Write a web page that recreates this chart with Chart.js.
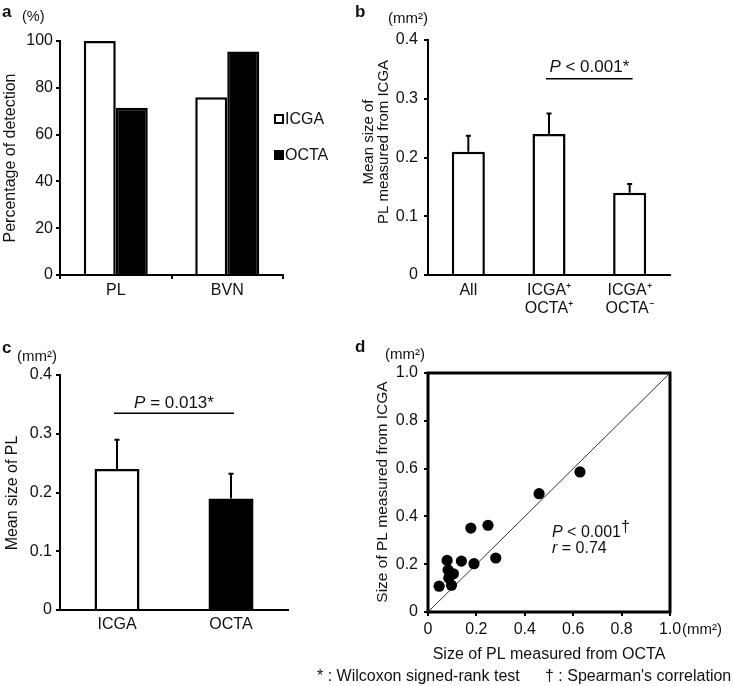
<!DOCTYPE html>
<html>
<head>
<meta charset="utf-8">
<script src="https://cdn.jsdelivr.net/npm/chart.js@4.4.1/dist/chart.umd.min.js"></script>
<style>
  html, body { margin: 0; padding: 0; background: #fff; }
  #wrap { position: relative; width: 733px; height: 686px; }
  #wrap canvas { position: absolute; left: 0; top: 0; }
</style>
</head>
<body>
<div id="wrap">
  <canvas id="ca" width="733" height="686"></canvas>
  <canvas id="cb" width="733" height="686"></canvas>
  <canvas id="cc" width="733" height="686"></canvas>
  <canvas id="cd" width="733" height="686"></canvas>
</div>
<script>
// ---------------- data ----------------
// Panel a: percentage of detection
const detectCategories = ['PL', 'BVN'];
const detectICGA = [100, 76];
const detectOCTA = [71.5, 95.5];
const detectTickLabels = ['0', '20', '40', '60', '80', '100'];

// Panel b: mean size of PL measured from ICGA
const icgaSizeCategories = ['All', ['ICGA\u207A', 'OCTA\u207A'], ['ICGA\u207A', 'OCTA\u207B']];
const icgaSizeMeans = [0.21, 0.24, 0.14];
const icgaSizeErrors = [0.027, 0.035, 0.015];
const icgaSizeCompare = [1, 2];          // categories compared
const icgaSizeCompareLevel = 0.334;     // value at which the bracket sits
const icgaSizeCompareLabel = ['P', ' < 0.001*'];

// Panel c: mean size of PL
const sizeCategories = ['ICGA', 'OCTA'];
const sizeMeans = [0.24, 0.19];
const sizeErrors = [0.05, 0.042];
const sizeCompare = [0, 1];
const sizeCompareLevel = 0.335;
const sizeCompareLabel = ['P', ' = 0.013*'];
const sizeTickLabels = ['0', '0.1', '0.2', '0.3', '0.4'];

// Panel d: scatter OCTA (x) vs ICGA (y)
const scatterOCTA = [0.046, 0.097, 0.079, 0.083, 0.086, 0.105, 0.138, 0.19, 0.177, 0.248, 0.28, 0.459, 0.628];
const scatterICGA = [0.108, 0.112, 0.216, 0.176, 0.142, 0.160, 0.213, 0.202, 0.351, 0.363, 0.226, 0.495, 0.586];
const identityLine = [0, 1];
const scatterTickLabels = ['0', '0.2', '0.4', '0.6', '0.8', '1.0'];

// ---------------- helpers ----------------
const W = 733, H = 686;
const FONT = "'Liberation Sans', Arial, Helvetica, sans-serif";
const INK = '#111';
const YW = 50;   // fixed width of y-axis boxes
const XH = 44;   // fixed height of x-axis boxes

function fixedArea(l, t, r, b) {
  return { padding: { left: l - YW, top: t, right: W - r, bottom: H - b - XH } };
}
const fixW = s => { s.width = YW; };
const fixH = s => { s.height = XH; };

function drawRuns(ctx, runs, x, y, o = {}) {
  const size = o.size || 16;
  const align = o.align || 'left';
  runs = runs.map(r => typeof r === 'string' ? { t: r } : r);
  const fontOf = r => `${r.italic ? 'italic ' : ''}${(r.bold || o.bold) ? 'bold ' : ''}${r.size || size}px ${FONT}`;
  ctx.save();
  ctx.fillStyle = o.color || INK;
  ctx.textBaseline = 'alphabetic';
  ctx.textAlign = 'left';
  let total = 0;
  runs.forEach(r => { ctx.font = fontOf(r); total += ctx.measureText(r.t).width; });
  let sx = align === 'center' ? -total / 2 : (align === 'right' ? -total : 0);
  ctx.translate(x, y);
  if (o.rot) ctx.rotate(o.rot);
  runs.forEach(r => {
    ctx.font = fontOf(r);
    ctx.fillText(r.t, sx, r.dy || 0);
    sx += ctx.measureText(r.t).width;
  });
  ctx.restore();
}

function tickFont() { return { family: FONT, size: 16 }; }

function yScale(max, step, labels, pad) {
  return {
    min: 0, max: max,
    afterFit: fixW,
    ticks: { stepSize: step, callback: (v, i) => labels[i], color: INK, font: tickFont(), padding: pad },
    grid: { display: true, drawOnChartArea: false, drawTicks: true, tickLength: 4, color: '#000', lineWidth: 2 },
    border: { display: true, color: '#000', width: 2 }
  };
}
function xCatScale(pad, withTicks, lineHeight) {
  return {
    afterFit: fixH,
    ticks: { color: INK, font: { family: FONT, size: 16, lineHeight: lineHeight || 1.2 }, padding: pad, maxRotation: 0, autoSkip: false },
    grid: { display: withTicks, drawOnChartArea: false, drawTicks: withTicks, tickLength: 4, color: '#000', lineWidth: 2 },
    border: { display: true, color: '#000', width: 2 }
  };
}

const errorBarPlugin = {
  id: 'errorBars',
  afterDatasetsDraw(chart) {
    const errs = chart.options.plugins.errorBars && chart.options.plugins.errorBars.errors;
    if (!errs) return;
    const ctx = chart.ctx;
    const meta = chart.getDatasetMeta(0);
    const ys = chart.scales.y;
    ctx.save();
    ctx.strokeStyle = '#000';
    ctx.lineWidth = 2;
    meta.data.forEach((el, i) => {
      const v = chart.data.datasets[0].data[i];
      const yTop = ys.getPixelForValue(v + errs[i]);
      ctx.beginPath();
      ctx.moveTo(el.x, el.y);
      ctx.lineTo(el.x, yTop);
      ctx.moveTo(el.x - 2.5, yTop);
      ctx.lineTo(el.x + 2.5, yTop);
      ctx.stroke();
    });
    ctx.restore();
  }
};

function drawBracket(chart, pair, level, label, textGap) {
  const ctx = chart.ctx;
  const xs = chart.scales.x, ys = chart.scales.y;
  const x1 = xs.getPixelForValue(pair[0]) - 3;
  const x2 = xs.getPixelForValue(pair[1]) + 3;
  const y = ys.getPixelForValue(level);
  ctx.save();
  ctx.strokeStyle = '#000';
  ctx.lineWidth = 1.6;
  ctx.beginPath();
  ctx.moveTo(x1, y);
  ctx.lineTo(x2, y);
  ctx.stroke();
  ctx.restore();
  drawRuns(ctx, [{ t: label[0], italic: true }, label[1]], (x1 + x2) / 2, y - textGap, { align: 'center', size: 17 });
}

const common = {
  responsive: false,
  animation: false,
  events: [],
  devicePixelRatio: 1
};

// ---------------- panel a ----------------
new Chart(document.getElementById('ca'), {
  type: 'bar',
  data: {
    labels: detectCategories,
    datasets: [
      { label: 'ICGA', data: detectICGA, backgroundColor: '#fff', borderColor: '#000', borderWidth: 2.5 },
      { label: 'OCTA', data: detectOCTA, backgroundColor: '#000', borderColor: '#000', borderWidth: 2.5 }
    ]
  },
  options: Object.assign({}, common, {
    layout: fixedArea(60, 41, 283, 275),
    datasets: { bar: { barPercentage: 1, categoryPercentage: 0.574 } },
    plugins: { legend: { display: false }, tooltip: { enabled: false } },
    scales: {
      x: xCatScale(2, true),
      y: yScale(100, 20, detectTickLabels, 3)
    }
  }),
  plugins: [{
    id: 'annA',
    afterDraw(chart) {
      const ctx = chart.ctx;
      drawRuns(ctx, ['a'], 2, 17, { bold: true, size: 17 });
      drawRuns(ctx, ['(%)'], 22, 21, { size: 14.5 });
      drawRuns(ctx, ['Percentage of detection'], 15, 158, { align: 'center', rot: -Math.PI / 2, size: 16 });
      // legend
      const ds = chart.data.datasets;
      ctx.save();
      ctx.lineWidth = 2;
      ctx.strokeStyle = '#000';
      ctx.fillStyle = ds[0].backgroundColor;
      ctx.fillRect(275, 115, 8, 8);
      ctx.strokeRect(275, 115, 8, 8);
      ctx.fillStyle = ds[1].backgroundColor;
      ctx.fillRect(274, 150, 10, 10);
      ctx.restore();
      drawRuns(ctx, [ds[0].label], 285, 124, { size: 16 });
      drawRuns(ctx, [ds[1].label], 285, 160, { size: 16 });
    }
  }]
});

// ---------------- panel b ----------------
new Chart(document.getElementById('cb'), {
  type: 'bar',
  data: {
    labels: icgaSizeCategories,
    datasets: [
      { data: icgaSizeMeans, backgroundColor: '#fff', borderColor: '#000', borderWidth: 2.5 }
    ]
  },
  options: Object.assign({}, common, {
    layout: fixedArea(428, 40, 670, 275),
    datasets: { bar: { barPercentage: 1, categoryPercentage: 0.41 } },
    plugins: { legend: { display: false }, tooltip: { enabled: false }, errorBars: { errors: icgaSizeErrors } },
    scales: {
      x: xCatScale(7, false, 1.1),
      y: yScale(0.4, 0.1, sizeTickLabels, 6)
    }
  }),
  plugins: [errorBarPlugin, {
    id: 'annB',
    afterDraw(chart) {
      const ctx = chart.ctx;
      drawRuns(ctx, ['b'], 355, 17, { bold: true, size: 17 });
      drawRuns(ctx, ['(mm\u00B2)'], 388, 23, { size: 15 });
      drawRuns(ctx, ['Mean size of'], 373, 142, { align: 'center', rot: -Math.PI / 2, size: 15 });
      drawRuns(ctx, ['PL measured from ICGA'], 388, 142, { align: 'center', rot: -Math.PI / 2, size: 15 });
      drawBracket(chart, icgaSizeCompare, icgaSizeCompareLevel, icgaSizeCompareLabel, 7);
    }
  }]
});

// ---------------- panel c ----------------
new Chart(document.getElementById('cc'), {
  type: 'bar',
  data: {
    labels: sizeCategories,
    datasets: [
      { data: sizeMeans, backgroundColor: ['#fff', '#000'], borderColor: '#000', borderWidth: 2.5 }
    ]
  },
  options: Object.assign({}, common, {
    layout: fixedArea(60, 375, 288, 610),
    datasets: { bar: { barPercentage: 1, categoryPercentage: 0.395 } },
    plugins: { legend: { display: false }, tooltip: { enabled: false }, errorBars: { errors: sizeErrors } },
    scales: {
      x: xCatScale(4.5, false),
      y: yScale(0.4, 0.1, sizeTickLabels, 4)
    }
  }),
  plugins: [errorBarPlugin, {
    id: 'annC',
    afterDraw(chart) {
      const ctx = chart.ctx;
      drawRuns(ctx, ['c'], 2, 353, { bold: true, size: 17 });
      drawRuns(ctx, ['(mm\u00B2)'], 17, 361, { size: 15 });
      drawRuns(ctx, ['Mean size of PL'], 17, 493, { align: 'center', rot: -Math.PI / 2, size: 16 });
      drawBracket(chart, sizeCompare, sizeCompareLevel, sizeCompareLabel, 5);
    }
  }]
});

// ---------------- panel d ----------------
new Chart(document.getElementById('cd'), {
  type: 'scatter',
  data: {
    datasets: [
      { data: scatterOCTA.map((x, i) => ({ x: x, y: scatterICGA[i] })), pointRadius: 5.6, backgroundColor: '#000', borderWidth: 0 },
      { type: 'line', data: identityLine.map(v => ({ x: v, y: v })), borderColor: '#333', borderWidth: 1, pointRadius: 0, showLine: true, fill: false }
    ]
  },
  options: Object.assign({}, common, {
    layout: fixedArea(428, 373, 670, 612),
    plugins: { legend: { display: false }, tooltip: { enabled: false } },
    scales: {
      x: {
        type: 'linear', min: 0, max: 1, afterFit: fixH,
        ticks: { stepSize: 0.2, callback: (v, i) => scatterTickLabels[i], color: INK, font: tickFont(), padding: 3.5, maxRotation: 0 },
        grid: { display: true, drawOnChartArea: false, drawTicks: true, tickLength: 4, color: '#000', lineWidth: 2 },
        border: { display: false }
      },
      y: {
        type: 'linear', min: 0, max: 1, afterFit: fixW,
        ticks: { stepSize: 0.2, callback: (v, i) => scatterTickLabels[i], color: INK, font: tickFont(), padding: 6 },
        grid: { display: true, drawOnChartArea: false, drawTicks: true, tickLength: 4, color: '#000', lineWidth: 2 },
        border: { display: false }
      }
    }
  }),
  plugins: [{
    id: 'frameD',
    beforeDatasetsDraw(chart) {
      const a = chart.chartArea, ctx = chart.ctx;
      ctx.save();
      ctx.strokeStyle = '#000';
      ctx.lineWidth = 3;
      ctx.strokeRect(a.left, a.top, a.right - a.left, a.bottom - a.top);
      ctx.restore();
    },
    afterDraw(chart) {
      const ctx = chart.ctx;
      drawRuns(ctx, ['d'], 355, 352, { bold: true, size: 17 });
      drawRuns(ctx, ['(mm\u00B2)'], 385, 359, { size: 15 });
      drawRuns(ctx, ['(mm\u00B2)'], 682, 634, { size: 15 });
      drawRuns(ctx, ['Size of PL measured from ICGA'], 387, 492, { align: 'center', rot: -Math.PI / 2, size: 15.5 });
      drawRuns(ctx, ['Size of PL measured from OCTA'], 549, 659, { align: 'center', size: 16 });
      drawRuns(ctx, [{ t: 'P', italic: true }, ' < 0.001', { t: '\u2020', dy: -5 }], 552, 537, { size: 16 });
      drawRuns(ctx, [{ t: 'r', italic: true }, ' = 0.74'], 552, 553, { size: 16 });
      // footnote
      drawRuns(ctx, ['* : Wilcoxon signed-rank test'], 317, 681, { size: 16 });
      drawRuns(ctx, ['\u2020 : Spearman\'s correlation'], 545, 681, { size: 16 });
    }
  }]
});
</script>
</body>
</html>
